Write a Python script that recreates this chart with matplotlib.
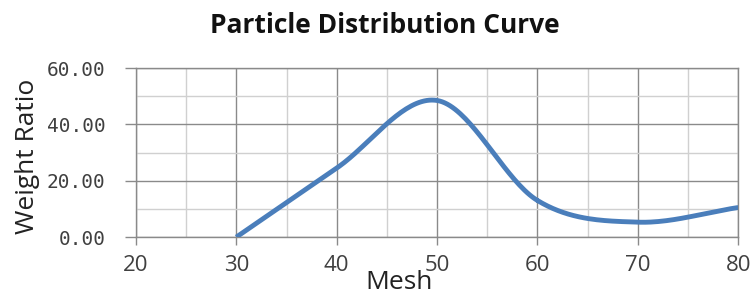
import matplotlib
matplotlib.use("Agg")
import matplotlib.pyplot as plt
import numpy as np
from matplotlib.ticker import MultipleLocator, FormatStrFormatter

MESH = [30, 40, 50, 60, 70, 80]
WEIGHT_RATIO = [0.0, 24.5, 48.5, 13.0, 5.3, 10.5]
TITLE = "Particle Distribution Curve"
X_LABEL = "Mesh"
Y_LABEL = "Weight Ratio"
LINE_COLOR = "#4a7ebb"


def smooth_curve(x, y, steps=40):
    # Catmull-Rom style smoothing, like spreadsheet "smoothed line"
    x = np.asarray(x, float)
    y = np.asarray(y, float)
    px = np.concatenate([[2 * x[0] - x[1]], x, [2 * x[-1] - x[-2]]])
    py = np.concatenate([[2 * y[0] - y[1]], y, [2 * y[-1] - y[-2]]])
    xs, ys = [], []
    t = np.linspace(0, 1, steps)
    for i in range(1, len(px) - 2):
        for arr, out in ((px, xs), (py, ys)):
            p0, p1, p2, p3 = arr[i - 1], arr[i], arr[i + 1], arr[i + 2]
            out.extend(0.5 * ((2 * p1) + (-p0 + p2) * t
                              + (2 * p0 - 5 * p1 + 4 * p2 - p3) * t ** 2
                              + (-p0 + 3 * p1 - 3 * p2 + p3) * t ** 3))
    return np.array(xs), np.array(ys)


fig = plt.figure(figsize=(7.51, 2.96), dpi=100)
ax = fig.add_axes([0.181, 0.199, 0.802, 0.571])

sx, sy = smooth_curve(MESH, WEIGHT_RATIO)
ax.plot(sx, sy, color=LINE_COLOR, linewidth=3.5, solid_capstyle="butt", zorder=3)

ax.set_xlim(20, 80)
ax.set_ylim(0, 60)
ax.xaxis.set_major_locator(MultipleLocator(10))
ax.xaxis.set_minor_locator(MultipleLocator(5))
ax.yaxis.set_major_locator(MultipleLocator(20))
ax.yaxis.set_minor_locator(MultipleLocator(10))
ax.yaxis.set_major_formatter(FormatStrFormatter("%.2f"))

ax.grid(which="major", color="#8a8a8a", linewidth=1.0)
ax.grid(which="minor", color="#d0d0d0", linewidth=1.0)
ax.set_axisbelow(True)
for spine in ax.spines.values():
    spine.set_color("#8a8a8a")
    spine.set_linewidth(1.0)

ax.tick_params(which="minor", length=0)
ax.tick_params(axis="x", which="major", length=6, color="#8a8a8a", width=1.0, pad=7)
ax.tick_params(axis="y", which="major", length=8, color="#8a8a8a", width=1.0, pad=14)
for lbl in ax.get_xticklabels():
    lbl.set_fontsize(16)
    lbl.set_family("Open Sans")
    lbl.set_color("#404040")
for lbl in ax.get_yticklabels():
    lbl.set_fontsize(14)
    lbl.set_family("DejaVu Sans Mono")
    lbl.set_color("#404040")

fig.text(0.531, 1 / 296, X_LABEL, ha="center", va="bottom", fontsize=19,
         family="Open Sans", color="#222222")
fig.text(0.037, 0.473, Y_LABEL, ha="center", va="center", rotation=90,
         fontsize=19, family="Open Sans", color="#222222")
fig.text(0.513, 1 - 33 / 296, TITLE, ha="center", va="baseline", fontsize=19,
         fontweight="bold", family="Open Sans", color="#111111")

fig.savefig("out.png", dpi=100)
